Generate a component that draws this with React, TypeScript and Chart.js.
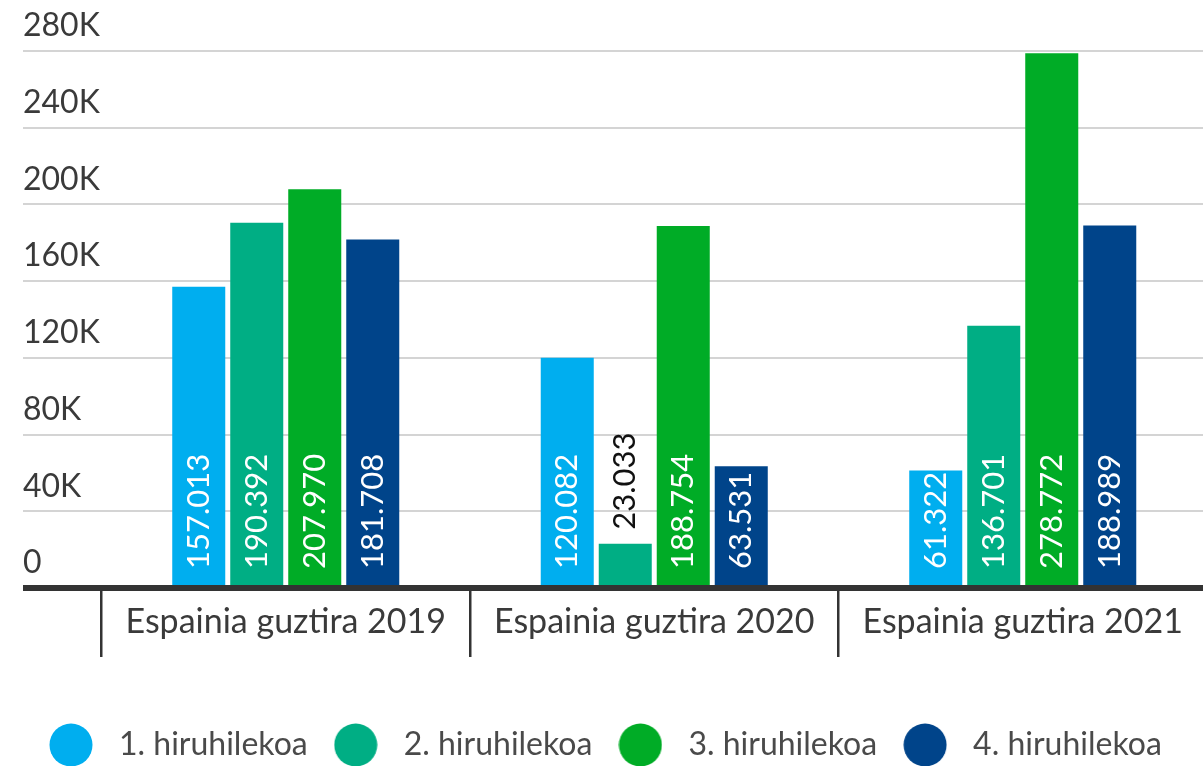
import React, { useEffect, useRef } from 'react';
import { Chart, registerables } from 'chart.js';

Chart.register(...registerables);

const categories = ['Espainia guztira 2019', 'Espainia guztira 2020', 'Espainia guztira 2021'];
const seriesLabels = ['1. hiruhilekoa', '2. hiruhilekoa', '3. hiruhilekoa', '4. hiruhilekoa'];
const q1Values = [157013, 120082, 61322];
const q2Values = [190392, 23033, 136701];
const q3Values = [207970, 188754, 278772];
const q4Values = [181708, 63531, 188989];
const seriesColors = ['#00AEEF', '#00AE84', '#00AC26', '#00448A'];
const yMax = 280000;
const yStep = 40000;

const FONT = 'Lato';

function fmt(v: number): string {
  return String(v).replace(/\B(?=(\d{3})+(?!\d))/g, '.');
}

function circleImage(color: string): HTMLCanvasElement {
  const c = document.createElement('canvas');
  c.width = 44;
  c.height = 44;
  const g = c.getContext('2d')!;
  g.fillStyle = color;
  g.beginPath();
  g.arc(22, 22, 21.5, 0, Math.PI * 2);
  g.fill();
  return c;
}

const barLabels = {
  id: 'barLabels',
  afterDatasetsDraw(chart: any) {
    const ctx = chart.ctx;
    ctx.save();
    ctx.font = `31px ${FONT}`;
    chart.data.datasets.forEach((ds: any, di: number) => {
      const meta = chart.getDatasetMeta(di);
      meta.data.forEach((bar: any, i: number) => {
        const { x, y, base } = bar.getProps(['x', 'y', 'base'], true);
        const text = fmt(ds.data[i]);
        const w = ctx.measureText(text).width;
        const inside = base - y >= w + 16;
        ctx.save();
        ctx.translate(x, inside ? base - 16 : y - 14);
        ctx.rotate(-Math.PI / 2);
        ctx.textAlign = 'left';
        ctx.textBaseline = 'middle';
        ctx.fillStyle = inside ? '#ffffff' : '#111111';
        ctx.fillText(text, 0, 0);
        ctx.restore();
      });
    });
    ctx.restore();
  },
};

export default function App() {
  const ref = useRef<HTMLCanvasElement | null>(null);

  useEffect(() => {
    if (!ref.current) return;
    const series = [q1Values, q2Values, q3Values, q4Values];
    const images = seriesColors.map(circleImage);
    const chart = new Chart(ref.current, {
      type: 'bar',
      data: {
        labels: categories,
        datasets: series.map((vals, i) => ({
          label: seriesLabels[i],
          data: vals,
          backgroundColor: seriesColors[i],
          borderWidth: 0,
          categoryPercentage: 0.6296,
          barPercentage: 0.914,
        })),
      },
      plugins: [barLabels],
      options: {
        responsive: false,
        animation: false,
        devicePixelRatio: 1,
        layout: { padding: { top: 51, left: 23, right: 3, bottom: 0 } },
        plugins: {
          tooltip: { enabled: false },
          legend: {
            position: 'bottom',
            align: 'start',
            labels: {
              usePointStyle: true,
              pointStyleWidth: 64,
              padding: 16,
              color: '#4a4a4a',
              font: { family: FONT, size: 32 },
              generateLabels: (chart: any) => {
                const items = Chart.defaults.plugins.legend.labels.generateLabels(chart);
                return items.map((it: any, i: number) => ({ ...it, pointStyle: images[i] }));
              },
            },
          },
        },
        scales: {
          x: {
            z: 1,
            border: { display: true, color: '#333333', width: 6 },
            grid: {
              drawOnChartArea: false,
              drawTicks: true,
              offset: true,
              tickLength: 69,
              color: '#333333',
              tickColor: '#333333',
              lineWidth: 2.5,
              tickWidth: 2.5,
            },
            ticks: {
              padding: -55,
              color: '#3a3a3a',
              font: { family: FONT, size: 34 },
              maxRotation: 0,
              autoSkip: false,
            },
            afterFit: (s: any) => {
              s.height = 125;
            },
          },
          y: {
            min: 0,
            max: yMax,
            border: { display: false },
            grid: {
              drawTicks: true,
              tickLength: 78.5,
              color: (c: any) => (c.tick && c.tick.value === 0 ? '#333333' : '#d4d4d4'),
              lineWidth: (c: any) => (c.tick && c.tick.value === 0 ? 6 : 2),
            },
            ticks: {
              stepSize: yStep,
              crossAlign: 'far',
              labelOffset: -25,
              padding: 0,
              color: '#3a3a3a',
              font: { family: FONT, size: 32 },
              callback: (v: any) => (Number(v) === 0 ? '0' : Number(v) / 1000 + 'K'),
            },
            afterFit: (s: any) => {
              s.width = 78.5;
            },
          },
        },
      },
    } as any);
    return () => chart.destroy();
  }, []);

  return (
    <div
      style={{
        position: 'fixed',
        left: 0,
        top: 0,
        width: 1203,
        height: 766,
        overflow: 'hidden',
        background: '#ffffff',
      }}
    >
      <canvas ref={ref} width={1210} height={771} style={{ display: 'block' }} />
    </div>
  );
}
